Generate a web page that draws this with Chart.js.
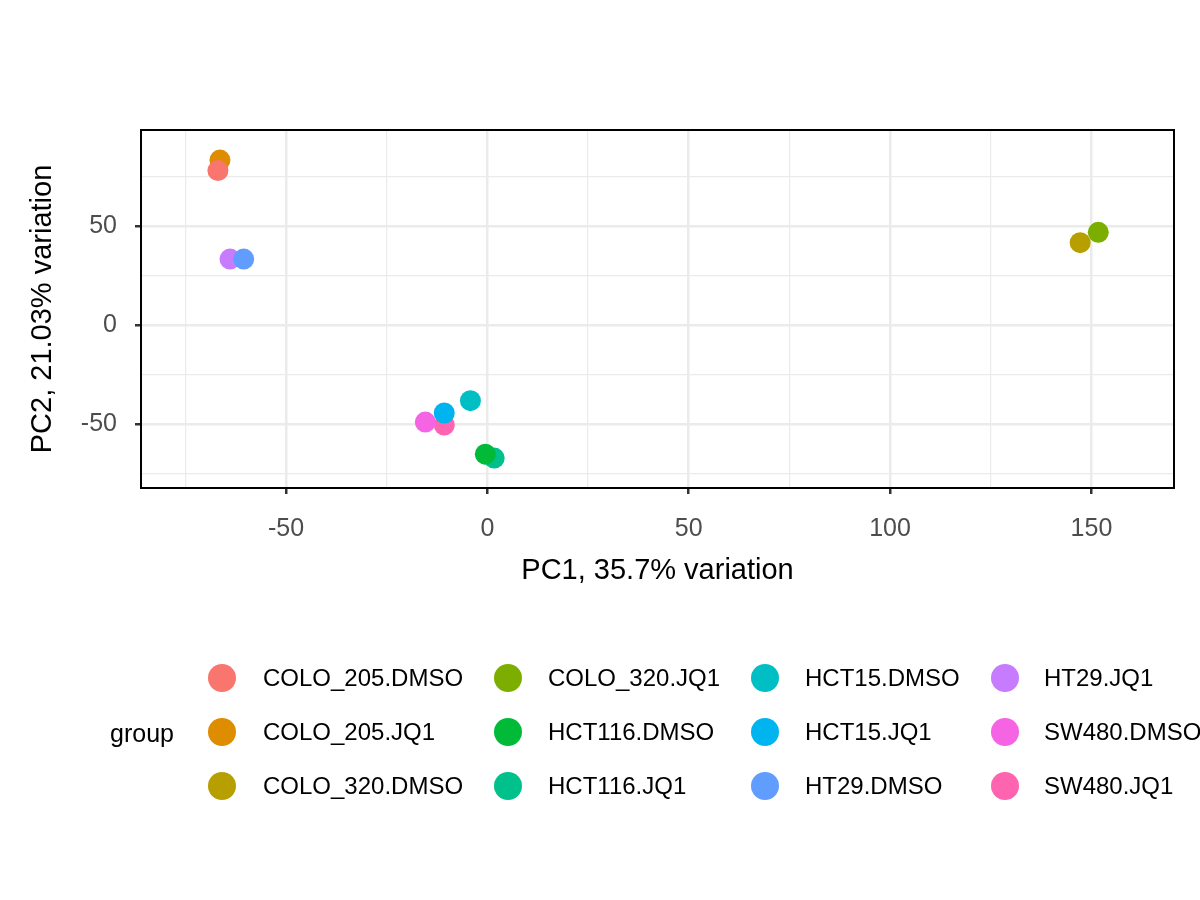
<!DOCTYPE html>
<html>
<head>
<meta charset="utf-8">
<script src="https://cdn.jsdelivr.net/npm/chart.js@4.4.0/dist/chart.umd.min.js"></script>
<style>
body { margin:0; background:#fff; overflow:hidden; font-family:"Liberation Sans", Arial, sans-serif; }
#wrap { position:relative; width:1200px; height:900px; }
.lg { position:absolute; font-size:24px; line-height:26px; color:#000; white-space:nowrap; }
.dot { position:absolute; width:28px; height:28px; border-radius:50%; }
</style>
</head>
<body>
<div id="wrap"><canvas id="c" width="1200" height="900"></canvas></div>
<script>
var groups = ["COLO_205.DMSO","COLO_205.JQ1","COLO_320.DMSO","COLO_320.JQ1","HCT116.DMSO","HCT116.JQ1",
              "HCT15.DMSO","HCT15.JQ1","HT29.DMSO","HT29.JQ1","SW480.DMSO","SW480.JQ1"];
var colors = ["#F8766D","#DE8C00","#B79F00","#7CAE00","#00BA38","#00C08B",
              "#00BFC4","#00B4F0","#619CFF","#C77CFF","#F564E3","#FF64B0"];
var pc1 = [-66.9, -66.4, 147.2, 151.7, -0.5, 1.7, -4.2, -10.7, -60.5, -63.9, -15.4, -10.7];
var pc2 = [78.0, 83.3, 41.6, 46.8, -65.2, -67.2, -38.2, -44.4, 33.3, 33.3, -49.0, -50.5];
// major ticks are labelled, minor ones only get a grid line
var xTicks = [-75, -50, -25, 0, 25, 50, 75, 100, 125, 150];
var yTicks = [-75, -50, -25, 0, 25, 50, 75];

var datasets = groups.map(function (g, i) {
    return { label: g, data: [{x: pc1[i], y: pc2[i]}], backgroundColor: colors[i],
             borderWidth: 0, pointRadius: 10.5, pointHoverRadius: 10.5 };
});

function gridW(ctx) { return (ctx.tick && ctx.tick.value % 50 === 0) ? 2.5 : 1.2; }
function tickC(ctx) { return ctx.tick && ctx.tick.value % 50 === 0 ? "#333" : "rgba(0,0,0,0)"; }
function lbl(v) { return v % 50 === 0 ? v : ""; }

var frame = {
    id: "frame",
    afterDraw: function (chart) {
        var a = chart.chartArea, c = chart.ctx;
        c.save(); c.strokeStyle = "#000"; c.lineWidth = 2;
        c.strokeRect(a.left, a.top, a.right - a.left, a.bottom - a.top);
        c.restore();
    }
};

new Chart("c", {
    type: "scatter",
    data: { datasets: datasets },
    options: {
        responsive: false, animation: false,
        layout: { padding: { top: 130, left: 22, right: 26, bottom: 308 } },
        plugins: { legend: { display: false }, tooltip: { enabled: false } },
        scales: {
            x: {
                min: -86, max: 170.5,
                afterBuildTicks: function (s) { s.ticks = xTicks.map(function (v) { return { value: v }; }); },
                ticks: { callback: lbl, color: "#4d4d4d", font: { size: 25 }, padding: 20, maxRotation: 0, autoSkip: false },
                grid: { color: "#ebebeb", lineWidth: gridW, tickLength: 6, tickColor: tickC },
                border: { display: false },
                title: { display: true, text: "PC1, 35.7% variation", color: "#000", font: { size: 29 } },
                afterFit: function (s) { s.height = 104; }
            },
            y: {
                min: -82.3, max: 98.5,
                afterBuildTicks: function (s) { s.ticks = yTicks.map(function (v) { return { value: v }; }); },
                ticks: { callback: lbl, color: "#4d4d4d", font: { size: 25 }, padding: 18, autoSkip: false },
                grid: { color: "#ebebeb", lineWidth: gridW, tickLength: 6, tickColor: tickC },
                border: { display: false },
                title: { display: true, text: "PC2, 21.03% variation", color: "#000", font: { size: 29 } },
                afterFit: function (s) { s.width = 119; }
            }
        }
    },
    plugins: [frame]
});

// legend, column-major like ggplot
var wrap = document.getElementById("wrap");
var colDot = [222, 508, 765, 1005], colTxt = [263, 548, 805, 1044], rowY = [678, 732, 786];
var t = document.createElement("div");
t.className = "lg"; t.textContent = "group"; t.style.fontSize = "25px";
t.style.left = "110px"; t.style.top = (733 - 13) + "px";
wrap.appendChild(t);
groups.forEach(function (g, i) {
    var col = Math.floor(i / 3), row = i % 3;
    var d = document.createElement("div");
    d.className = "dot"; d.style.background = colors[i];
    d.style.left = (colDot[col] - 14) + "px"; d.style.top = (rowY[row] - 14) + "px";
    wrap.appendChild(d);
    var s = document.createElement("div");
    s.className = "lg"; s.textContent = g;
    s.style.left = colTxt[col] + "px"; s.style.top = (rowY[row] - 13) + "px";
    wrap.appendChild(s);
});
</script>
</body>
</html>
